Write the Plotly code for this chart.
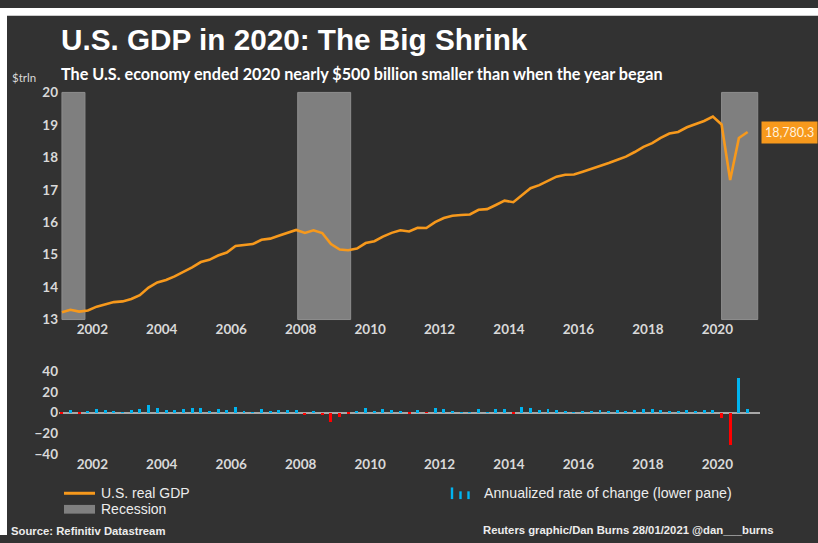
import plotly.graph_objects as go

W, H = 818, 543

# ---------------- data ----------------
years = list(range(2001, 2021))
quarter_months = [2, 5, 8, 11]  # mid-quarter placement
quarters = [f"{y}-{m:02d}-15" for y in years for m in quarter_months]

# U.S. real GDP, $ billion (chained 2012 dollars), quarterly 2001Q1-2020Q4
gdp_bn = [
    13222.7, 13300.0, 13244.8, 13280.9,
    13397.0, 13478.2, 13538.1, 13559.0,
    13634.3, 13751.5, 13985.1, 14145.6,
    14221.1, 14329.5, 14464.9, 14609.9,
    14771.6, 14839.8, 14972.1, 15066.6,
    15267.0, 15302.7, 15326.4, 15456.9,
    15493.3, 15582.1, 15666.7, 15762.0,
    15671.4, 15752.3, 15667.0, 15328.0,
    15155.9, 15134.1, 15189.2, 15356.1,
    15415.1, 15557.3, 15671.9, 15750.6,
    15712.8, 15825.1, 15820.7, 16004.1,
    16129.4, 16198.8, 16220.7, 16239.1,
    16382.9, 16403.2, 16531.7, 16663.6,
    16616.5, 16841.5, 17047.1, 17143.0,
    17280.6, 17404.8, 17462.7, 17472.0,
    17556.0, 17639.4, 17735.1, 17824.2,
    17925.3, 18021.0, 18163.6, 18322.5,
    18438.3, 18598.1, 18732.7, 18783.5,
    18927.3, 19021.9, 19121.1, 19254.1,
    19010.8, 17302.5, 18596.5, 18780.3,
]

# Annualized quarterly rate of change, %
growth = [
    -1.3, 2.5, -1.6, 1.1,
    3.5, 2.4, 1.8, 0.6,
    2.2, 3.5, 7.0, 4.7,
    2.2, 3.1, 3.8, 4.1,
    4.5, 1.9, 3.6, 2.6,
    5.4, 0.9, 0.6, 3.5,
    0.9, 2.3, 2.2, 2.5,
    -2.3, 2.1, -2.1, -8.4,
    -4.4, -0.6, 1.5, 4.5,
    1.5, 3.7, 3.0, 2.0,
    -1.0, 2.9, -0.1, 4.7,
    3.2, 1.7, 0.5, 0.5,
    3.6, 0.5, 3.2, 3.2,
    -1.1, 5.5, 5.0, 2.3,
    3.2, 3.0, 1.3, 0.1,
    2.0, 1.9, 2.2, 2.0,
    2.3, 1.7, 2.9, 3.9,
    3.8, 2.7, 2.1, 1.3,
    2.9, 1.5, 2.6, 2.4,
    -5.0, -31.4, 33.4, 4.0,
]

recessions = [
    ("2001-02-15", "2001-10-15"),
    ("2007-12-01", "2009-06-10"),
    ("2020-02-15", "2021-03-01"),
]

tick_years = list(range(2002, 2021, 2))
tick_vals = [f"{y}-01-01" for y in tick_years]
tick_text = [str(y) for y in tick_years]
top_ticks = [13, 14, 15, 16, 17, 18, 19, 20]
low_ticks = [-40, -20, 0, 20, 40]

last_label = "18,780.3"

# ---------------- styling ----------------
BG = "#323232"
ORANGE = "#f7991c"
BLUE = "#00b4f0"
RED = "#ff0000"
TICK = "#d9d9d9"
TXT = "#ececec"


def px(x):
    return x / W


def py(y):
    return 1 - y / H


gdp_trn = [v / 1000 for v in gdp_bn]
bar_colors = [BLUE if g >= 0 else RED for g in growth]

fig = go.Figure()

fig.add_trace(go.Scatter(
    x=quarters, y=gdp_trn, mode="lines",
    line=dict(color=ORANGE, width=2.6),
    xaxis="x", yaxis="y", showlegend=False,
))

fig.add_trace(go.Bar(
    x=quarters, y=growth, marker=dict(color=bar_colors, line=dict(width=0)),
    width=2.7e9, xaxis="x2", yaxis="y2", showlegend=False,
))

x_range = ["2001-01-15", "2021-03-25"]
xdom = [px(59), px(760)]

tfont = dict(family="Lato", size=13.5, color=TICK, weight="bold")

common_x = dict(
    type="date", range=x_range, domain=xdom, showgrid=False, zeroline=False,
    showline=False, ticks="", tickmode="array", tickvals=tick_vals,
    ticktext=tick_text, tickfont=tfont,
)

fig.update_layout(
    width=W, height=H,
    margin=dict(l=0, r=0, t=0, b=0),
    paper_bgcolor=BG, plot_bgcolor="rgba(0,0,0,0)",
    xaxis=dict(**common_x, anchor="y"),
    xaxis2=dict(**common_x, anchor="y2"),
    yaxis=dict(
        domain=[py(321), py(87)], range=[13, 20], showgrid=False, zeroline=False,
        showline=False, ticks="", tickmode="array", tickvals=top_ticks,
        tickfont=tfont, anchor="x",
    ),
    yaxis2=dict(
        domain=[py(460), py(374)], range=[-40, 40], showgrid=False,
        zeroline=True, zerolinecolor="#a8a8a8", zerolinewidth=1.5,
        showline=False, ticks="", tickmode="array", tickvals=low_ticks,
        tickfont=tfont, anchor="x2",
    ),
    bargap=0,
    showlegend=False,
)

shapes = []
for s, e in recessions:
    shapes.append(dict(
        type="rect", xref="x", yref="y domain", x0=s, x1=e, y0=0, y1=1,
        fillcolor="#7f7f7f", line=dict(color="#8e8e8e", width=1), layer="below",
    ))

# legend symbols
shapes.append(dict(type="line", xref="paper", yref="paper",
                   x0=px(64), x1=px(95), y0=py(500), y1=py(500),
                   line=dict(color=ORANGE, width=3)))
shapes.append(dict(type="rect", xref="paper", yref="paper",
                   x0=px(64), x1=px(95), y0=py(521), y1=py(512),
                   fillcolor="#808080", line=dict(width=0)))
for cx, top in [(452, 494), (460.5, 498), (468.5, 498)]:
    shapes.append(dict(type="rect", xref="paper", yref="paper",
                       x0=px(cx - 1.2), x1=px(cx + 1.2), y0=py(506), y1=py(top),
                       fillcolor=BLUE, line=dict(width=0)))

# white border along top and left edges
shapes.append(dict(type="rect", xref="paper", yref="paper", x0=0, x1=1,
                   y0=py(8), y1=1, fillcolor="white", line=dict(width=0), layer="above"))
shapes.append(dict(type="rect", xref="paper", yref="paper", x0=0, x1=px(7),
                   y0=0, y1=1, fillcolor="white", line=dict(width=0), layer="above"))

fig.update_layout(shapes=shapes)

ann = []
ann.append(dict(text="<b>U.S. GDP in 2020: The Big Shrink</b>", xref="paper", yref="paper",
                x=px(59), y=py(32.5), xanchor="left", yanchor="middle", showarrow=False,
                font=dict(family="Liberation Sans", size=29.7, color="white")))
ann.append(dict(text="<b>The U.S. economy ended 2020 nearly $500 billion smaller than when the year began</b>",
                xref="paper", yref="paper", x=px(59), y=py(67), xanchor="left", yanchor="middle",
                showarrow=False, font=dict(family="Lato", size=16.2, color="white")))
ann.append(dict(text="$trln", xref="paper", yref="paper", x=px(10), y=py(72),
                xanchor="left", yanchor="middle", showarrow=False,
                font=dict(family="Lato", size=11.5, color=TICK)))
ann.append(dict(text=last_label, xref="paper", yref="y", x=px(761), y=gdp_trn[-1],
                xanchor="left", yanchor="middle", showarrow=False, align="left",
                bgcolor=ORANGE, borderpad=3,
                font=dict(family="Lato", size=12.5, color="#fff1dc")))
ann.append(dict(text="U.S. real GDP", xref="paper", yref="paper", x=px(99), y=py(500),
                xanchor="left", yanchor="middle", showarrow=False,
                font=dict(family="Liberation Sans", size=14, color=TXT)))
ann.append(dict(text="Recession", xref="paper", yref="paper", x=px(99), y=py(516),
                xanchor="left", yanchor="middle", showarrow=False,
                font=dict(family="Liberation Sans", size=14, color=TXT)))
ann.append(dict(text="Annualized rate of change (lower pane)", xref="paper", yref="paper",
                x=px(482), y=py(500), xanchor="left", yanchor="middle", showarrow=False,
                font=dict(family="Liberation Sans", size=14.2, color=TXT)))
ann.append(dict(text="<b>Source: Refinitiv Datastream</b>", xref="paper", yref="paper",
                x=px(9), y=py(538.5), xanchor="left", yanchor="middle", showarrow=False,
                font=dict(family="Liberation Sans", size=11.3, color=TXT)))
ann.append(dict(text="<b>Reuters graphic/Dan Burns 28/01/2021 @dan___burns</b>", xref="paper",
                yref="paper", x=px(481), y=py(538), xanchor="left", yanchor="middle",
                showarrow=False, font=dict(family="Liberation Sans", size=11.3, color=TXT)))
fig.update_layout(annotations=ann)

# remove the default page margin/scrollbars so the figure fills the 818x543 window
post = ("document.body.style.margin='0';"
        "document.body.style.overflow='hidden';"
        "document.documentElement.style.overflow='hidden';")
fig.write_html("out.html", post_script=post, config={"displayModeBar": False})
